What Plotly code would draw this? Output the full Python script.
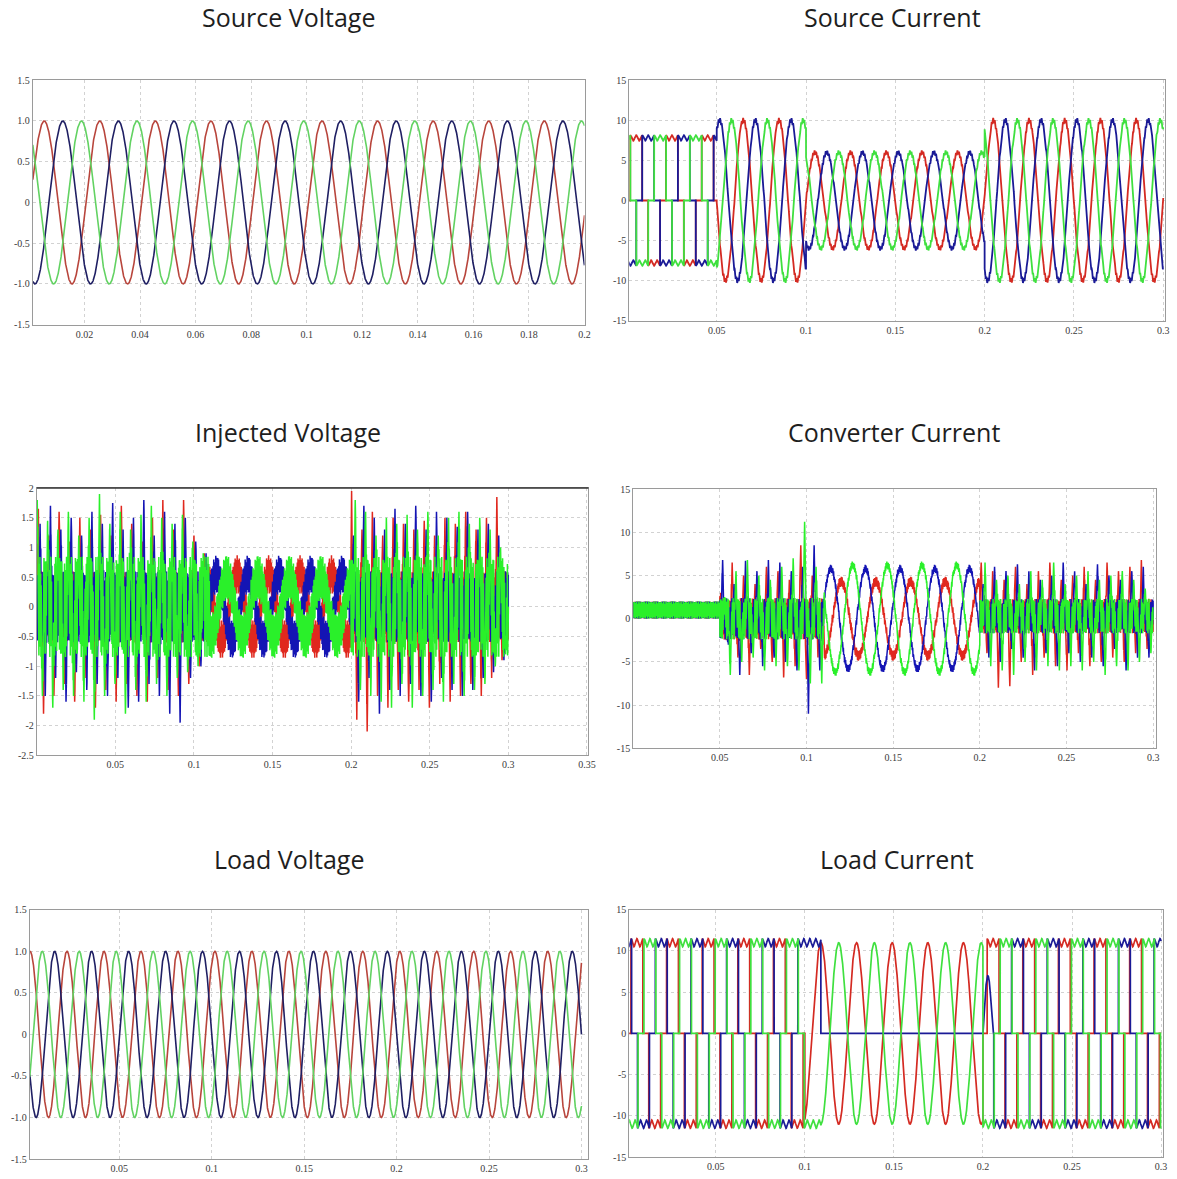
import numpy as np
import plotly.graph_objects as go

# ====================== values ======================
TITLES = ["Source Voltage", "Source Current", "Injected Voltage",
          "Converter Current", "Load Voltage", "Load Current"]
FREQ_HZ = 50.0

# --- Source voltage (pu): amplitude and first peak time of phases red, blue, green
SV_AMP = [1.0, 1.0, 1.0]
SV_PEAK_T = [0.0055, 0.0122, 0.0189]

# --- Source current (A)
SC_EDGES = [0.0, 0.05, 0.10, 0.20, 0.30]
SC_SHAPE = ["six-pulse", "sine", "sine", "sine"]
SC_AMP = [7.8, 10.0, 6.0, 10.0]
SC_RIPPLE = [0.35, 0.3, 0.25, 0.3]
SC_PEAK_T = [0.0049, 0.0116, 0.0183]

# --- Injected voltage (pu)
INJ_EDGES = [0.0, 0.11, 0.20, 0.30]
INJ_BAND = [0.6, 0.6, 0.85]                # dense switching band, red/blue/green
INJ_B_AMP = [0.55, 0.55, 0.5]              # fundamental in the compensated interval
INJ_B_RIPPLE = [0.32, 0.32, 0.38]
INJ_B_PEAK_T = [0.0075, 0.0142, 0.0008]
INJ_SPIKE_DT = 0.0033
INJ_A_T0 = [0.0010, 0.0021, 0.0003]
INJ_A_RED = [1.65, -1.8, 1.2, -1.5, 1.6, -1.3, 1.1, -1.6, 1.5, -1.2, 1.3, -1.7, 1.55, -1.4,
             1.2, -1.6, 1.7, -1.3, 1.4, -1.5, 1.1, -1.6, 1.5, -1.2, 1.8, -1.4, 1.3, -1.5,
             1.8, -1.3, 1.2, -1.0, 0.9]
INJ_A_BLUE = [1.4, -1.5, 1.7, -1.2, 1.3, -1.6, 1.5, -1.1, 1.2, -1.4, 1.6, -1.3, 1.4, -1.5,
              1.75, -1.2, 1.3, -1.7, 1.5, -1.6, 1.8, -1.3, 1.2, -1.5, 1.6, -1.8, 1.4, -1.95,
              1.5, -1.2, 1.1, -1.0, 0.9]
INJ_A_GREEN = [1.8, -1.5, 1.45, -1.7, 1.3, -1.4, 1.6, -1.5, 1.2, -1.6, 1.5, -1.9, 1.9, -1.5,
               1.4, -1.3, 1.6, -1.8, 1.3, -1.4, 1.55, -1.6, 1.7, -1.3, 1.5, -1.5, 1.4, -1.2,
               1.55, -1.1, 1.1, -1.0, 0.9]
INJ_C_T0 = [0.2003, 0.2015, 0.2026]
INJ_C_RED = [1.95, -1.9, 1.3, -2.1, 1.6, -1.5, 1.2, -1.7, 1.5, -1.4, 1.4, -1.6, 1.3, -1.4,
             1.45, -1.7, 1.2, -1.3, 1.5, -1.6, 1.4, -1.5, 1.6, -1.3, 1.3, -1.5, 1.5, -1.2,
             1.85, -0.9]
INJ_C_BLUE = [1.2, -1.6, 1.7, -1.2, 1.5, -1.8, 1.3, -1.4, 1.65, -1.5, 1.4, -1.3, 1.7, -1.5,
              1.3, -1.6, 1.6, -1.2, 1.5, -1.4, 1.35, -1.5, 1.6, -1.4, 1.3, -1.2, 1.4, -1.1,
              1.2, -0.9]
INJ_C_GREEN = [1.8, -1.4, 1.6, -1.5, 1.2, -1.6, 1.5, -1.7, 1.4, -1.3, 1.55, -1.7, 1.3, -1.5,
               1.6, -1.4, 1.2, -1.6, 1.5, -1.3, 1.6, -1.5, 1.4, -1.4, 1.5, -1.3, 1.3, -1.0,
               1.0, -0.8]

# --- Converter current (A)
CC_EDGES = [0.0, 0.05, 0.11, 0.20, 0.30]
CC_A_LEVEL = 1.0
CC_A_BAND = 1.0
CC_B_BAND = 2.4
CC_C_AMP = [4.3, 5.8, 6.2]
CC_C_PEAK_T = [0.0000, 0.0140, 0.0066]
CC_C_RIPPLE = [0.6, 0.45, 0.45]
CC_D_LEVEL = 0.3
CC_D_BAND = 2.0
CC_SPIKE_DT = 0.0033
CC_B_T0 = [0.0505, 0.0516, 0.0527]
CC_B_RED = [3.0, -2.5, 6.5, -4.5, 5.0, -6.5, 4.0, -3.5, 6.0, -5.0, 5.5, -6.8, 4.5, -5.5,
            8.5, -7.0, 5.0, -4.5]
CC_B_BLUE = [6.8, -3.0, 4.0, -6.5, 6.7, -4.0, 5.5, -5.5, 6.8, -4.5, 6.5, -5.0, 5.5, -6.0,
             6.0, -11.0, 8.5, -6.0]
CC_B_GREEN = [2.5, -6.5, 5.5, -5.0, 6.8, -4.5, 5.0, -6.0, 4.5, -5.5, 6.0, -5.5, 7.0, -6.0,
              11.2, -7.5, 6.0, -7.5]
CC_D_T0 = [0.2008, 0.2019, 0.2030]
CC_D_RED = [6.5, -4.0, 5.5, -8.0, 4.5, -7.8, 6.0, -5.0, 4.0, -6.5, 5.5, -4.5, 6.5, -5.5,
            4.5, -6.0, 5.0, -4.0, 6.0, -5.5, 4.5, -5.0, 6.5, -4.5, 5.5, -5.0, 6.0, -4.0,
            6.8, -3.5]
CC_D_BLUE = [4.0, -4.5, 6.0, -5.0, 5.5, -3.5, 6.3, -4.5, 5.5, -6.0, 4.5, -4.0, 5.0, -5.5,
             6.5, -4.0, 5.5, -5.0, 4.0, -4.5, 6.3, -5.5, 5.0, -3.5, 4.5, -6.0, 5.5, -4.5,
             6.0, -4.5]
CC_D_GREEN = [6.5, -5.5, 4.5, -6.0, 5.0, -6.5, 4.0, -5.0, 5.5, -6.0, 4.5, -5.5, 6.5, -6.0,
              4.0, -5.5, 5.0, -6.0, 5.5, -5.0, 4.5, -6.5, 5.0, -5.5, 5.5, -6.0, 4.5, -5.0,
              3.5, -4.0]

# --- Load voltage (pu)
LV_AMP = [1.0, 1.0, 1.0]
LV_PEAK_T = [0.0017, -0.0050, 0.0083]

# --- Load current (A)
LC_AMP = 11.0
LC_RIPPLE = 0.5
LC_PEAK_T = [0.0057, -0.0006, 0.0130]
LC_RED_SINE = [0.100, 0.200, 0.009, 11.0]      # start, end, peak time, amplitude
LC_GREEN_SINE = [0.109, 0.200, 0.019, 11.0]
LC_GREEN_HOLD = [0.100, 0.109, -11.0]
LC_BLUE_HOLD = [0.100, 0.109, 11.0]
LC_BLUE_OPEN = [0.109, 0.200, 0.0]
LC_BLUE_HUMP = [0.200, 0.2055, 7.0]

# ====================== styling / layout ======================
W, H = 1177, 1179
COL_V = ["#b8453c", "#1f1f63", "#62d262"]
COL_I = ["#d42a22", "#1a1a96", "#3fe03f"]
COL_N = ["#e0281e", "#1414b4", "#2af02a"]

BOX = {1: (33, 588, 75, 322), 2: (633, 1172, 75, 318), 3: (37, 592, 487, 757),
       4: (637, 1163, 488, 750), 5: (30, 592, 913, 1165), 6: (633, 1170, 913, 1163)}
XR = {1: [0.0014, 0.2], 2: [0.001, 0.301], 3: [0.0, 0.351], 4: [0.0, 0.3017],
      5: [0.0016, 0.3038], 6: [0.0014, 0.3011]}
TITLE_POS = {1: (290, 11), 2: (898, 11), 3: (290, 430), 4: (899, 430),
             5: (291, 862), 6: (902, 862)}


# ====================== helpers ======================
def theta(t, tp):
    return 2 * np.pi * FREQ_HZ * (t - tp)


def six_pulse(th):
    c = np.cos(th)
    return np.where(c > 0.5, 1.0, np.where(c < -0.5, -1.0, 0.0))


def band(t, k):
    return (0.7 * np.sin(2 * np.pi * 2300 * t + 2.1 * k)
            + 0.3 * np.sin(2 * np.pi * 3900 * t + 1.3 * k))


def apply_needles(t, y, t0, dt, heights, hw=0.0009):
    """Replace the waveform by narrow needles of the given peak heights."""
    for j, h in enumerate(heights):
        tj = t0 + j * dt
        m = np.abs(t - tj) < hw
        w = 1 - np.abs(t[m] - tj) / hw
        y[m] = y[m] * (1 - w) + h * w
    return y


def seg(t, a, b, last=False):
    return (t >= a) & ((t <= b) if last else (t < b))


fig = go.Figure()


def add(panel, t, y, color, width):
    xa = "x" if panel == 1 else f"x{panel}"
    ya = "y" if panel == 1 else f"y{panel}"
    fig.add_trace(go.Scatter(x=t, y=y, mode="lines", xaxis=xa, yaxis=ya,
                             line=dict(color=color, width=width),
                             hoverinfo="skip", showlegend=False))


# ---- Panel 1: source voltage
t1 = np.arange(0.0014, 0.2 + 1e-9, 5e-5)
for k in range(3):
    add(1, t1, SV_AMP[k] * np.cos(theta(t1, SV_PEAK_T[k])), COL_V[k], 1.6)

# ---- Panel 2: source current
t2 = np.arange(0.0, 0.3 + 1e-9, 2.5e-5)
for k in range(3):
    y = np.zeros_like(t2)
    th = theta(t2, SC_PEAK_T[k])
    for s in range(4):
        m = seg(t2, SC_EDGES[s], SC_EDGES[s + 1], s == 3)
        if SC_SHAPE[s] == "six-pulse":
            sp = six_pulse(th[m])
            y[m] = sp * (SC_AMP[s] + SC_RIPPLE[s] * np.cos(6 * th[m]))
        else:
            y[m] = SC_AMP[s] * np.cos(th[m]) + SC_RIPPLE[s] * np.sin(2 * np.pi * 1100 * t2[m] + k)
    add(2, t2, y, COL_I[k], 1.8)

# ---- Panel 3: injected voltage
t3 = np.arange(0.0, 0.3 + 1e-9, 2e-5)
spA = [INJ_A_RED, INJ_A_BLUE, INJ_A_GREEN]
spC = [INJ_C_RED, INJ_C_BLUE, INJ_C_GREEN]
for k in range(3):
    y = np.zeros_like(t3)
    bd = band(t3, k)
    mA = seg(t3, INJ_EDGES[0], INJ_EDGES[1])
    mB = seg(t3, INJ_EDGES[1], INJ_EDGES[2])
    mC = seg(t3, INJ_EDGES[2], INJ_EDGES[3], True)
    y[mA] = INJ_BAND[k] * bd[mA]
    y[mB] = INJ_B_AMP[k] * np.cos(theta(t3[mB], INJ_B_PEAK_T[k])) + INJ_B_RIPPLE[k] * bd[mB]
    y[mC] = INJ_BAND[k] * bd[mC]
    y = apply_needles(t3, y, INJ_A_T0[k], INJ_SPIKE_DT, spA[k])
    y = apply_needles(t3, y, INJ_C_T0[k], INJ_SPIKE_DT, spC[k])
    add(3, t3, y, COL_N[k], 1.5)

# ---- Panel 4: converter current
t4 = np.arange(0.0, 0.3 + 1e-9, 2e-5)
spB = [CC_B_RED, CC_B_BLUE, CC_B_GREEN]
spD = [CC_D_RED, CC_D_BLUE, CC_D_GREEN]
for k in range(3):
    y = np.zeros_like(t4)
    bd = band(t4, k)
    mA = seg(t4, CC_EDGES[0], CC_EDGES[1])
    mB = seg(t4, CC_EDGES[1], CC_EDGES[2])
    mC = seg(t4, CC_EDGES[2], CC_EDGES[3])
    mD = seg(t4, CC_EDGES[3], CC_EDGES[4], True)
    y[mA] = CC_A_LEVEL + CC_A_BAND * bd[mA]
    y[mB] = CC_B_BAND * bd[mB]
    y[mC] = CC_C_AMP[k] * np.cos(theta(t4[mC], CC_C_PEAK_T[k])) + CC_C_RIPPLE[k] * bd[mC]
    y[mD] = CC_D_LEVEL + CC_D_BAND * bd[mD]
    y = apply_needles(t4, y, CC_B_T0[k], CC_SPIKE_DT, spB[k])
    y = apply_needles(t4, y, CC_D_T0[k], CC_SPIKE_DT, spD[k])
    add(4, t4, y, COL_N[k], 1.5)

# ---- Panel 5: load voltage
t5 = np.arange(0.0016, 0.3 + 1e-9, 5e-5)
for k in range(3):
    add(5, t5, LV_AMP[k] * np.cos(theta(t5, LV_PEAK_T[k])), COL_V[k], 1.6)

# ---- Panel 6: load current
t6 = np.arange(0.0, 0.3 + 1e-9, 2.5e-5)
for k in range(3):
    th = theta(t6, LC_PEAK_T[k])
    sp = six_pulse(th)
    y = sp * (LC_AMP + LC_RIPPLE * np.cos(6 * th))
    rip = LC_RIPPLE * np.cos(6 * th)
    if k == 0:
        m = seg(t6, LC_RED_SINE[0], LC_RED_SINE[1])
        y[m] = LC_RED_SINE[3] * np.cos(theta(t6[m], LC_RED_SINE[2]))
    elif k == 2:
        m = seg(t6, LC_GREEN_HOLD[0], LC_GREEN_HOLD[1])
        y[m] = LC_GREEN_HOLD[2] - rip[m]
        m = seg(t6, LC_GREEN_SINE[0], LC_GREEN_SINE[1])
        y[m] = LC_GREEN_SINE[3] * np.cos(theta(t6[m], LC_GREEN_SINE[2]))
    else:
        m = seg(t6, LC_BLUE_HOLD[0], LC_BLUE_HOLD[1])
        y[m] = LC_BLUE_HOLD[2] + rip[m]
        m = seg(t6, LC_BLUE_OPEN[0], LC_BLUE_OPEN[1])
        y[m] = LC_BLUE_OPEN[2]
        m = seg(t6, LC_BLUE_HUMP[0], LC_BLUE_HUMP[1])
        y[m] = LC_BLUE_HUMP[2] * np.sin(np.pi * (t6[m] - LC_BLUE_HUMP[0]) /
                                         (LC_BLUE_HUMP[1] - LC_BLUE_HUMP[0]))
    add(6, t6, y, COL_I[k], 1.7)

# ====================== axes ======================
Y_TICKS = {
    1: ([1.5, 1.0, 0.5, 0, -0.5, -1.0, -1.5], ["1.5", "1.0", "0.5", "0", "-0.5", "-1.0", "-1.5"], [-1.5, 1.5]),
    2: ([15, 10, 5, 0, -5, -10, -15], ["15", "10", "5", "0", "-5", "-10", "-15"], [-15, 15]),
    3: ([2, 1.5, 1, 0.5, 0, -0.5, -1, -1.5, -2, -2.5],
        ["2", "1.5", "1", "0.5", "0", "-0.5", "-1", "-1.5", "-2", "-2.5"], [-2.5, 2]),
    4: ([15, 10, 5, 0, -5, -10, -15], ["15", "10", "5", "0", "-5", "-10", "-15"], [-15, 15]),
    5: ([1.5, 1.0, 0.5, 0, -0.5, -1.0, -1.5], ["1.5", "1.0", "0.5", "0", "-0.5", "-1.0", "-1.5"], [-1.5, 1.5]),
    6: ([15, 10, 5, 0, -5, -10, -15], ["15", "10", "5", "0", "-5", "-10", "-15"], [-15, 15]),
}
X1_TICKS = [0.02, 0.04, 0.06, 0.08, 0.1, 0.12, 0.14, 0.16, 0.18, 0.2]
X1_TEXT = ["0.02", "0.04", "0.06", "0.08", "0.1", "0.12", "0.14", "0.16", "0.18", "0.2"]
X_TICKS = [0.05, 0.1, 0.15, 0.2, 0.25, 0.3]
X_TEXT = ["0.05", "0.1", "0.15", "0.2", "0.25", "0.3"]
X3_TICKS = X_TICKS + [0.35]
X3_TEXT = X_TEXT + ["0.35"]

tickfont = dict(family="Liberation Serif", size=10, color="#3a3a3a")
common = dict(showgrid=True, gridcolor="#d2d2d2", griddash="dot", gridwidth=1,
              zeroline=False, showline=True, linecolor="#9a9a9a", linewidth=1,
              mirror=True, ticks="", tickfont=tickfont, fixedrange=True)

layout_axes = {}
for p in range(1, 7):
    x0, x1, y0, y1 = BOX[p]
    xd = [x0 / W, x1 / W]
    yd = [1 - y1 / H, 1 - y0 / H]
    if p == 1:
        xt, xtt = X1_TICKS, X1_TEXT
    elif p == 3:
        xt, xtt = X3_TICKS, X3_TEXT
    else:
        xt, xtt = X_TICKS, X_TEXT
    yt, ytt, yr = Y_TICKS[p]
    xk = "xaxis" if p == 1 else f"xaxis{p}"
    yk = "yaxis" if p == 1 else f"yaxis{p}"
    xa = "x" if p == 1 else f"x{p}"
    ya = "y" if p == 1 else f"y{p}"
    layout_axes[xk] = dict(domain=xd, range=XR[p], anchor=ya, tickvals=xt, ticktext=xtt, **common)
    layout_axes[yk] = dict(domain=yd, range=yr, anchor=xa, tickvals=yt, ticktext=ytt, **common)

annotations = []
for p in range(1, 7):
    cx, cy = TITLE_POS[p]
    annotations.append(dict(text=TITLES[p - 1], x=cx / W, y=1 - cy / H, xref="paper", yref="paper",
                            xanchor="center", yanchor="middle", showarrow=False,
                            font=dict(family="Open Sans", size=25, color="#1e1e1e")))

shapes = [dict(type="line", xref="paper", yref="paper",
               x0=BOX[3][0] / W, x1=BOX[3][1] / W, y0=1 - BOX[3][2] / H, y1=1 - BOX[3][2] / H,
               line=dict(color="#333333", width=1.5))]

fig.update_layout(width=W, height=H, margin=dict(l=0, r=0, t=0, b=0),
                  paper_bgcolor="white", plot_bgcolor="white", showlegend=False,
                  hovermode=False, annotations=annotations, shapes=shapes, **layout_axes)

fig.write_html("out.html")
